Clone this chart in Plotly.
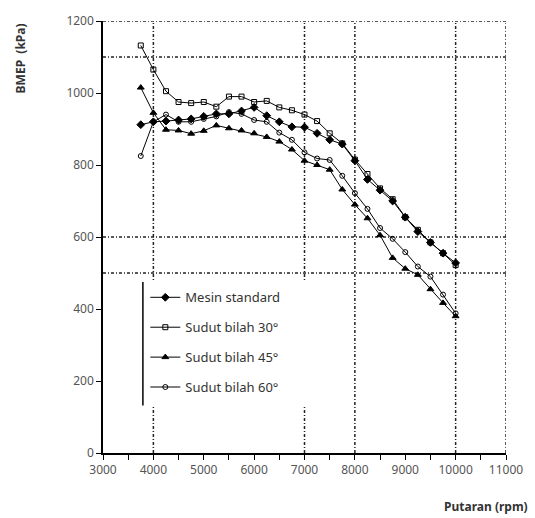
import plotly.graph_objects as go

rpm = [3750, 4000, 4250, 4500, 4750, 5000, 5250, 5500, 5750, 6000, 6250, 6500, 6750,
       7000, 7250, 7500, 7750, 8000, 8250, 8500, 8750, 9000, 9250, 9500, 9750, 10000]

mesin_standard = [912, 920, 922, 925, 928, 935, 942, 942, 950, 960, 937, 920, 906,
                  905, 888, 870, 858, 812, 760, 730, 700, 655, 615, 585, 555, 528]
sudut_30 = [1132, 1065, 1005, 975, 972, 975, 962, 990, 990, 975, 978, 960, 952,
            940, 922, 888, 860, 815, 775, 735, 705, 655, 620, 585, 555, 522]
sudut_45 = [1015, 945, 898, 896, 887, 895, 910, 902, 896, 888, 878, 865, 843,
            812, 800, 787, 732, 690, 652, 605, 542, 512, 495, 455, 417, 380]
sudut_60 = [825, 920, 940, 920, 920, 928, 935, 947, 942, 925, 920, 890, 870,
            835, 818, 814, 770, 722, 678, 625, 595, 558, 518, 490, 440, 388]

series_names = ["Mesin standard", "Sudut bilah 30°", "Sudut bilah 45°", "Sudut bilah 60°"]
series_values = [mesin_standard, sudut_30, sudut_45, sudut_60]
symbols = ["diamond", "square-open", "triangle-up", "circle-open"]
sizes = [6, 5, 6, 5]

grid_x = [4000, 7000, 8000, 10000, 11000]
grid_y = [500, 600, 1100, 1200]

x_ticks = [3000, 4000, 5000, 6000, 7000, 8000, 9000, 10000, 11000]
x_labels = ["3000", "4000", "5000", "6000", "7000", "8000", "9000", "10000", "11000"]
y_ticks = [0, 200, 400, 600, 800, 1000, 1200]

fig = go.Figure()
for i, (name, vals, sym, sz) in enumerate(zip(series_names, series_values, symbols, sizes)):
    fig.add_trace(go.Scatter(
        x=rpm, y=vals, name=name, mode="lines+markers",
        line=dict(color="black", width=1),
        marker=dict(symbol=sym, size=sz, color="black",
                    line=dict(color="black", width=1)),
        legendgroup=f"g{i}",
    ))

shapes = []
for gx in grid_x:
    shapes.append(dict(type="line", xref="x", yref="y", x0=gx, x1=gx, y0=0, y1=1200,
                       line=dict(color="#222", width=1.5, dash="3px,2px,1px,2px"), layer="below"))
for gy in grid_y:
    shapes.append(dict(type="line", xref="x", yref="y", x0=3000, x1=11000, y0=gy, y1=gy,
                       line=dict(color="#222", width=1.5, dash="3px,2px,1px,2px"), layer="below"))
# legend white box and left rule
shapes.append(dict(type="rect", xref="paper", yref="paper", x0=0.099, x1=0.51,
                   y0=0.11, y1=0.396, fillcolor="white", line=dict(width=0), layer="above"))
shapes.append(dict(type="line", xref="paper", yref="paper", x0=0.099, x1=0.099,
                   y0=0.11, y1=0.396, line=dict(color="black", width=1.5), layer="above"))

fig.update_layout(
    width=535, height=518,
    margin=dict(l=103, r=27, t=16, b=65),
    paper_bgcolor="white", plot_bgcolor="white",
    font=dict(family="Noto Sans", size=12, color="#555"),
    shapes=shapes,
    showlegend=True,
    legend=dict(x=0.105, y=0.395, xanchor="left", yanchor="top",
                bgcolor="rgba(0,0,0,0)", font=dict(size=13, color="#333"),
                tracegroupgap=10, itemwidth=30),
    xaxis=dict(range=[3000, 11000], tickvals=x_ticks, ticktext=x_labels,
               showgrid=False, zeroline=False,
               showline=True, linecolor="black", linewidth=1.5,
               ticks="outside", ticklen=5, tickcolor="black",
               minor=dict(dtick=500, ticks="outside", ticklen=5, tickcolor="black"),
               tickfont=dict(size=12, color="#555")),
    yaxis=dict(range=[0, 1200], tickvals=y_ticks, showgrid=False, zeroline=False,
               showline=True, linecolor="black", linewidth=1.5,
               ticks="outside", ticklen=5, tickcolor="black",
               tickfont=dict(size=12, color="#555")),
    annotations=[
        dict(text="<b>BMEP  (kPa)</b>", xref="paper", yref="paper",
             x=-0.205, y=1.0, xanchor="center", yanchor="top", textangle=-90,
             showarrow=False, font=dict(size=12, color="#333")),
        dict(text="<b>Putaran (rpm)</b>", xref="paper", yref="paper",
             x=1.06, y=-0.1, xanchor="right", yanchor="top",
             showarrow=False, font=dict(size=12, color="#333")),
    ],
)

fig.write_html("out.html")
